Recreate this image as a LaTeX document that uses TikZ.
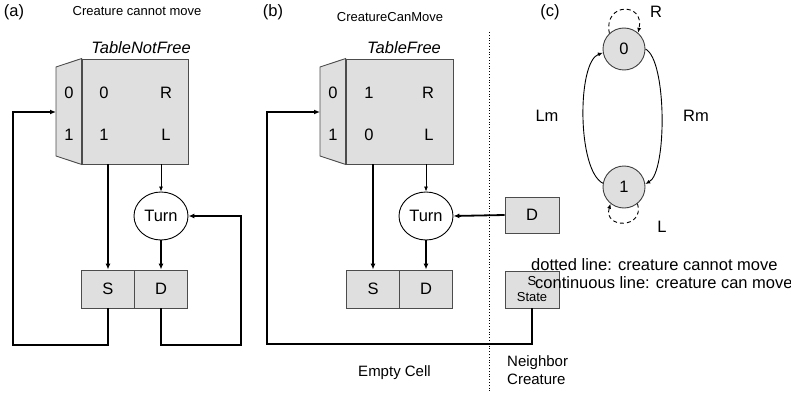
\documentclass[tikz,border=0pt]{standalone}
\usepackage{fontspec}
\setmainfont{Liberation Sans}
\usetikzlibrary{arrows.meta,shapes.geometric}
\begin{document}
\begin{tikzpicture}[x=1pt,y=-1pt,
  cell/.style={draw=black!70, fill=gray!25, line width=0.9pt, inner sep=0pt},
  lbl/.style={font=\fontsize{16.5}{19}\selectfont, inner sep=0pt},
  tname/.style={font=\fontsize{16.5}{19}\selectfont\itshape, inner sep=0pt},
  caption/.style={font=\fontsize{13}{15}\selectfont, inner sep=0pt},
  midtxt/.style={font=\fontsize{15}{15}\selectfont, inner sep=0pt},
  conn/.style={line width=1.8pt, -{Latex[length=6pt,width=5pt]}},
  fine/.style={line width=0.8pt, -{Latex[length=5pt,width=4pt]}},
  turn/.style={draw, ellipse, line width=0.9pt, minimum width=54pt, minimum height=48pt, inner sep=0pt, font=\fontsize{16.5}{19}\selectfont},
  state/.style={draw=black!75, fill=gray!25, circle, minimum size=42pt, inner sep=0pt, line width=0.9pt, font=\fontsize{16.5}{19}\selectfont},
  loopline/.style={line width=0.9pt, dash pattern=on 4pt off 3pt, -{Latex[length=5pt,width=4pt]}},
  arc/.style={line width=0.9pt, -{Latex[length=5pt,width=4pt]}}
]
\useasboundingbox (0,0) rectangle (791,393);

% ---------------- (a) creature cannot move ----------------
\node[lbl] (pa) at (14,12) {(a)};
\node[caption] (capA) at (137,11) {Creature cannot move};
\node[tname] (tAname) at (141,48) {TableNotFree};

\node[cell, minimum width=106pt, minimum height=105pt] (tA) at (135,111.5) {};
\path[cell] (tA.north west) -- (56,67) -- (56,156) -- (tA.south west) -- cycle;
\coordinate (tAin) at (56,112);
\node[lbl] (tAi0) at (69,93) {0};
\node[lbl] (tAi1) at (69,135) {1};
\node[lbl] (tAo0) at (104,93) {0};
\node[lbl] (tAo1) at (104,135) {1};
\node[lbl] (tAd0) at (166,93) {R};
\node[lbl] (tAd1) at (166,135) {L};

\node[turn] (turnA) at (161,216) {Turn};
\node[cell, lbl, minimum width=53pt, minimum height=38pt] (sA) at (108,289) {S};
\node[cell, lbl, minimum width=53pt, minimum height=38pt] (dA) at (161,289) {D};

\coordinate (loopA) at (13,345);
\coordinate (loopA2) at (241,345);
\draw[conn] (sA.south) |- (loopA) |- (tAin);
\draw[conn] (tA.south -| sA.center) -- (sA.north);
\draw[fine] (tA.south -| turnA.center) -- (turnA.north);
\draw[conn] (turnA.south) -- (dA.north);
\draw[conn] (dA.south) |- (loopA2) |- (turnA.east);

% ---------------- (b) creature can move ----------------
\node[lbl] (pb) at (273,12) {(b)};
\node[caption] (capB) at (390,17) {CreatureCanMove};
\node[tname] (tBname) at (404,48) {TableFree};

\node[cell, minimum width=107pt, minimum height=105pt] (tB) at (399.5,111.5) {};
\path[cell] (tB.north west) -- (320,67) -- (320,156) -- (tB.south west) -- cycle;
\coordinate (tBin) at (320,112);
\node[lbl] (tBi0) at (333,93) {0};
\node[lbl] (tBi1) at (333,135) {1};
\node[lbl] (tBo0) at (369,93) {1};
\node[lbl] (tBo1) at (369,135) {0};
\node[lbl] (tBd0) at (428,93) {R};
\node[lbl] (tBd1) at (429,135) {L};

\node[turn] (turnB) at (426,216) {Turn};
\node[cell, lbl, minimum width=53pt, minimum height=38pt] (sB) at (373,289) {S};
\node[cell, lbl, minimum width=53pt, minimum height=38pt] (dB) at (426,289) {D};

% neighbour cell
\draw[line width=0.8pt, dotted] (489,32) -- (489,393);
\node[cell, lbl, minimum width=54pt, minimum height=36pt] (nD) at (532,215) {D};
\node[cell, minimum width=54pt, minimum height=37pt] (stB) at (532,289.5) {};
\node[caption] (stS) at (532,281) {S};
\node[caption] (stName) at (532,297) {State};

\coordinate (loopB) at (267,344);
\draw[conn] (stB.south) |- (loopB) |- (tBin);
\draw[conn] (tB.south -| sB.center) -- (sB.north);
\draw[fine] (tB.south -| turnB.center) -- (turnB.north);
\draw[conn] (turnB.south) -- (dB.north);
\draw[conn] (nD.west) -- (turnB.east);

\node[midtxt] (empty) at (394.5,373) {Empty Cell};
\node[midtxt, anchor=west] (nb1) at (507,363) {Neighbor};
\node[midtxt, anchor=west] (nb2) at (507,379) {Creature};

% ---------------- (c) state diagram ----------------
\node[lbl] (pc) at (550,12) {(c)};
\node[state] (n0) at (624,49) {0};
\node[state] (n1) at (624,187) {1};

\draw[arc] (n1.170) .. controls (577,170) and (577,62) .. (n0.190);
\draw[arc] (n0.east) .. controls (667,60) and (667,172) .. (n1.8);
\draw[loopline] (n0.133) .. controls (603,2) and (645,2) .. (n0.49);
\draw[loopline] (n1.309) .. controls (645,229) and (603,229) .. (n1.231);

\node[lbl] (lR) at (656,12) {R};
\node[lbl] (lL) at (662,227) {L};
\node[lbl] (lLm) at (547,116) {Lm};
\node[lbl] (lRm) at (696,116) {Rm};

\node[lbl, anchor=west] (leg1) at (531,265) {dotted line: creature cannot move};
\node[lbl, anchor=west] (leg2) at (535,283) {continuous line: creature can move};
\end{tikzpicture}
\end{document}
